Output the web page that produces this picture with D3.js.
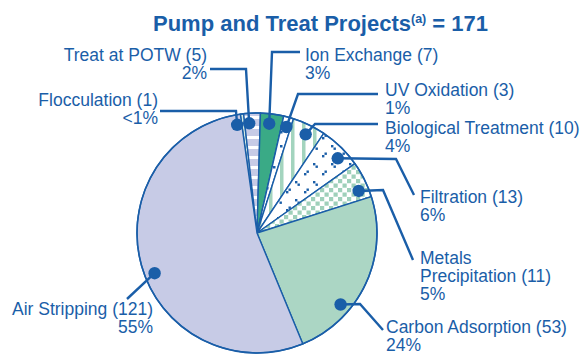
<!DOCTYPE html>
<html>
<head>
<meta charset="utf-8">
<script src="https://cdn.jsdelivr.net/npm/d3@7/dist/d3.min.js"></script>
<style>
  html, body { margin: 0; padding: 0; background: #fff; }
  svg { display: block; }
  text { font-family: "Liberation Sans", Arial, Helvetica, sans-serif; fill: #1a5ea8; }
</style>
</head>
<body>
<svg id="chart" width="584" height="354"></svg>
<script>
// Treatment technologies, clockwise from 12 o'clock
const technologies = ["Flocculation", "Treat at POTW", "Ion Exchange", "UV Oxidation",
  "Biological Treatment", "Filtration", "Metals Precipitation", "Carbon Adsorption", "Air Stripping"];
const projectCounts = [1, 5, 7, 3, 10, 13, 11, 53, 121];
const percentLabels = ["<1%", "2%", "3%", "1%", "4%", "6%", "5%", "24%", "55%"];
const titleText = "Pump and Treat Projects";
const titleNote = "(a)";
const titleTotal = 171;

const BLUE = "#1a5ea8";
const cx = 257, cy = 233, R = 120;
const startDeg = -8;

const svg = d3.select("#chart");
const defs = svg.append("defs");

// fill patterns
function pattern(id, w, h, bg) {
  const p = defs.append("pattern").attr("id", id)
    .attr("patternUnits", "userSpaceOnUse").attr("width", w).attr("height", h);
  p.append("rect").attr("width", w).attr("height", h).attr("fill", bg);
  return p;
}
// horizontal white bars on lavender
pattern("potw", 10, 10, "#c7cbe6")
  .append("rect").attr("y", 3).attr("width", 10).attr("height", 3).attr("fill", "#fff");
// sparse blue specks
const uv = pattern("uv", 14, 14, "#fff");
[[2, 3], [9, 10]].forEach(([x, y]) =>
  uv.append("rect").attr("x", x).attr("y", y).attr("width", 2.5).attr("height", 2.5).attr("fill", BLUE));
// vertical green bars
pattern("bio", 11, 10, "#fff")
  .append("rect").attr("x", 1).attr("width", 3.5).attr("height", 10).attr("fill", "#a3d4be");
// short blue dashes
const filt = pattern("filt", 18, 18, "#fff");
[[2, 2], [4.5, 4.5], [11, 12], [13.5, 9.5]].forEach(([x, y]) =>
  filt.append("rect").attr("x", x).attr("y", y).attr("width", 2.4).attr("height", 2.4).attr("fill", BLUE));
// staggered green squares
const met = pattern("metals", 9, 9, "#fff");
[[0, 0], [4.5, 4.5]].forEach(([x, y]) =>
  met.append("rect").attr("x", x).attr("y", y).attr("width", 4.2).attr("height", 4.2).attr("fill", "#9fd0ba"));

const fills = ["#d5ebe2", "url(#potw)", "#3aaa86", "url(#uv)", "url(#bio)",
  "url(#filt)", "url(#metals)", "#abd6c4", "#c7cbe6"];

const rad = d => d * Math.PI / 180;
const pie = d3.pie().sort(null).value(d => d)
  .startAngle(rad(startDeg)).endAngle(rad(startDeg + 360));
const arcs = pie(projectCounts);
const arc = d3.arc().innerRadius(0).outerRadius(R);

const g = svg.append("g").attr("transform", `translate(${cx},${cy})`);
g.selectAll("path.slice").data(arcs).join("path")
  .attr("class", "slice")
  .attr("d", arc)
  .attr("fill", (d, i) => fills[i])
  .attr("stroke", BLUE).attr("stroke-width", 1.4).attr("stroke-linejoin", "round");
g.append("circle").attr("r", R).attr("fill", "none").attr("stroke", BLUE).attr("stroke-width", 1.6);

// callouts: angular nudge of the marker from the slice middle (deg), leader bends, label anchor
const callouts = [
  { nudge: -3.2, path: [[236, 111], [160, 111]], tx: 158, ty: 106, anchor: "end" },
  { nudge: -1.7, path: [[246, 69], [210, 69]], tx: 207, ty: 61, anchor: "end" },
  { nudge: -0.9, path: [[272, 52], [300, 52]], tx: 305, ty: 61, anchor: "start" },
  { nudge: 0.2, path: [[298, 94], [378, 94]], tx: 385, ty: 96, anchor: "start" },
  { nudge: 0.5, path: [[315, 124], [378, 124]], tx: 385, ty: 134, anchor: "start" },
  { nudge: 3.0, path: [[396, 159], [414, 195]], tx: 420, ty: 203, anchor: "start" },
  { nudge: 4.0, path: [[383, 190], [413, 260]], tx: 420, ty: 264, anchor: "start" },
  { nudge: 15.6, path: [[360, 304], [383, 330]], tx: 386, ty: 333, anchor: "start" },
  { nudge: -6.2, path: [[127, 299]], tx: 153, ty: 315, anchor: "end" }
];
const dotR = 110;
const markers = arcs.map((a, i) => {
  const ang = (a.startAngle + a.endAngle) / 2 + rad(callouts[i].nudge);
  return [cx + dotR * Math.sin(ang), cy - dotR * Math.cos(ang)];
});

const line = d3.line();
svg.selectAll("path.leader").data(callouts).join("path")
  .attr("class", "leader")
  .attr("d", (c, i) => line([markers[i], ...c.path]))
  .attr("fill", "none").attr("stroke", BLUE).attr("stroke-width", 2.4).attr("stroke-linejoin", "miter");
svg.selectAll("circle.marker").data(markers).join("circle")
  .attr("class", "marker")
  .attr("cx", d => d[0]).attr("cy", d => d[1]).attr("r", 6.2).attr("fill", BLUE);

// labels: name and count, then share
const labelLines = technologies.map((t, i) => {
  if (t === "Metals Precipitation") return ["Metals", `Precipitation (${projectCounts[i]})`, percentLabels[i]];
  return [`${t} (${projectCounts[i]})`, percentLabels[i]];
});
const lab = svg.selectAll("text.lab").data(callouts).join("text")
  .attr("class", "lab")
  .attr("font-size", 17.5)
  .attr("text-anchor", c => c.anchor);
lab.each(function (c, i) {
  const t = d3.select(this);
  labelLines[i].forEach((s, k) => {
    t.append("tspan").attr("x", c.tx).attr("y", c.ty + k * 18).text(s);
  });
});

// title
const title = svg.append("text").attr("x", 153).attr("y", 31)
  .attr("font-size", 22).attr("font-weight", "bold");
title.append("tspan").text(titleText);
title.append("tspan").attr("dy", -8).attr("font-size", 12.5).text(titleNote);
title.append("tspan").attr("dy", 8).text(` = ${titleTotal}`);
</script>
</body>
</html>
